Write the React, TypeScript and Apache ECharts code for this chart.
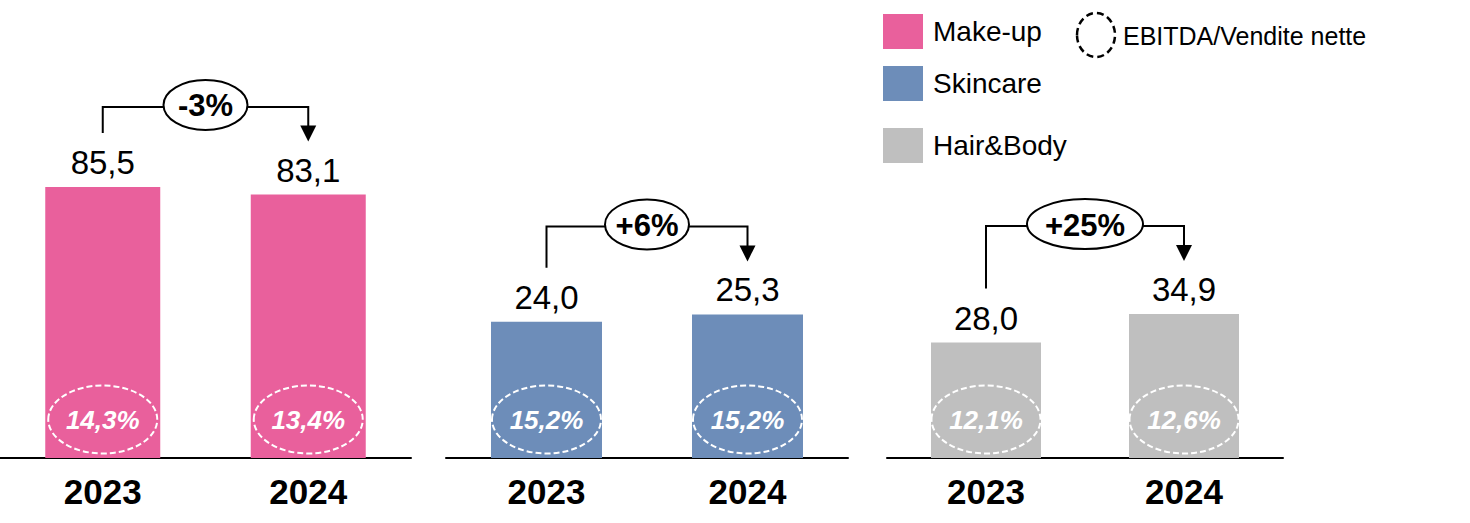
import React, { useEffect, useRef } from "react";
import * as echarts from "echarts";

const years = ["2023", "2024"];
const segmentNames = ["Make-up", "Skincare", "Hair&Body"];
const makeupValues = [85.5, 83.1];
const skincareValues = [24.0, 25.3];
const hairBodyValues = [28.0, 34.9];
const makeupMargins = ["14,3%", "13,4%"];
const skincareMargins = ["15,2%", "15,2%"];
const hairBodyMargins = ["12,1%", "12,6%"];
const growthLabels = ["-3%", "+6%", "+25%"];
const marginLegend = "EBITDA/Vendite nette";

const FONT = "'Liberation Sans', Arial, Helvetica, sans-serif";

const panels = [
  { values: makeupValues, margins: makeupMargins, color: "#E9609C", left: 0, width: 411, top: 141, max: 100, barWidth: 115, gap: 80 },
  { values: skincareValues, margins: skincareMargins, color: "#6D8DB9", left: 446, width: 402, top: 231, max: 40, barWidth: 111, gap: 88 },
  { values: hairBodyValues, margins: hairBodyMargins, color: "#BFBFBF", left: 887, width: 396, top: 293, max: 40, barWidth: 110, gap: 88 },
];

const legendTops = [14, 66, 128];

function fmt(v: number) {
  return v.toFixed(1).replace(".", ",");
}

export default function App() {
  const ref = useRef<HTMLDivElement>(null);

  useEffect(() => {
    document.body.style.margin = "0";
    if (!ref.current) return;
    const chart = echarts.init(ref.current, undefined, { renderer: "svg" });

    const grid = panels.map((p) => ({ left: p.left, width: p.width, top: p.top, bottom: 65, containLabel: false }));
    const xAxis = panels.map((p, i) => ({
      type: "category",
      gridIndex: i,
      data: years,
      axisLine: { lineStyle: { color: "#000", width: 2 } },
      axisTick: { show: false },
      axisLabel: { fontSize: 35, fontWeight: "bold", color: "#000", fontFamily: FONT, margin: 16 },
    }));
    const yAxis = panels.map((p, i) => ({
      type: "value",
      gridIndex: i,
      min: 0,
      max: p.max,
      show: false,
      splitLine: { show: false },
    }));

    const series: any[] = [];
    panels.forEach((p, i) => {
      series.push({
        type: "bar",
        name: segmentNames[i],
        xAxisIndex: i,
        yAxisIndex: i,
        data: p.values,
        barWidth: p.barWidth,
        z: 2,
        itemStyle: { color: p.color },
        label: {
          show: true,
          position: "top",
          distance: 8,
          formatter: (d: any) => fmt(d.value),
          fontSize: 33,
          color: "#000",
          fontFamily: FONT,
        },
      });
      // EBITDA margin ellipses
      series.push({
        type: "custom",
        xAxisIndex: i,
        yAxisIndex: i,
        clip: false,
        silent: true,
        z: 10,
        data: p.values.map((v, k) => [k, v]),
        renderItem: (params: any, api: any) => {
          const k = api.value(0);
          const base = api.coord([k, 0]);
          const cy = base[1] - 38.5;
          return {
            type: "group",
            children: [
              {
                type: "ellipse",
                shape: { cx: base[0], cy, rx: 54.5, ry: 34 },
                style: { fill: "none", stroke: "#ffffff", lineWidth: 2, lineDash: [6, 3] },
              },
              {
                type: "text",
                x: base[0],
                y: cy,
                style: {
                  text: p.margins[k],
                  fill: "#ffffff",
                  fontSize: 26,
                  fontWeight: "bold",
                  fontStyle: "italic",
                  fontFamily: FONT,
                  align: "center",
                  verticalAlign: "middle",
                },
              },
            ],
          };
        },
      });
      // growth bracket
      series.push({
        type: "custom",
        xAxisIndex: i,
        yAxisIndex: i,
        clip: false,
        silent: true,
        z: 10,
        data: [[0, p.values[0], p.values[1]]],
        renderItem: (params: any, api: any) => {
          const a = api.coord([0, api.value(1)]);
          const b = api.coord([1, api.value(2)]);
          const by = Math.min(a[1], b[1]) - p.gap;
          const cx = (a[0] + b[0]) / 2;
          const label = growthLabels[i];
          const rx = 42 + Math.max(0, label.length - 3) * 16;
          const ry = 25;
          const tipY = b[1] - 53;
          const line = { stroke: "#000", lineWidth: 2, fill: "none" };
          return {
            type: "group",
            children: [
              {
                type: "polyline",
                shape: { points: [[a[0], a[1] - 54], [a[0], by], [cx - rx, by]] },
                style: line,
              },
              {
                type: "polyline",
                shape: { points: [[cx + rx, by], [b[0], by], [b[0], tipY - 14]] },
                style: line,
              },
              {
                type: "polygon",
                shape: { points: [[b[0] - 8, tipY - 16], [b[0] + 8, tipY - 16], [b[0], tipY]] },
                style: { fill: "#000" },
              },
              {
                type: "ellipse",
                shape: { cx, cy: by - 2, rx, ry },
                style: { fill: "#fff", stroke: "#000", lineWidth: 2 },
              },
              {
                type: "text",
                x: cx,
                y: by - 1,
                style: {
                  text: label,
                  fill: "#000",
                  fontSize: 31,
                  fontWeight: "bold",
                  fontFamily: FONT,
                  align: "center",
                  verticalAlign: "middle",
                },
              },
            ],
          };
        },
      });
    });

    const legend = segmentNames.map((n, i) => ({
      data: [n],
      left: 883,
      top: legendTops[i],
      orient: "vertical",
      itemWidth: 40,
      itemHeight: 35,
      icon: "rect",
      padding: 0,
      selectedMode: false,
      textStyle: { fontSize: 28, color: "#000", fontFamily: FONT, padding: [2, 0, 0, 5] },
    }));

    chart.setOption({
      animation: false,
      backgroundColor: "#fff",
      grid,
      xAxis,
      yAxis,
      legend,
      series,
      graphic: [
        {
          type: "ellipse",
          shape: { cx: 1096, cy: 35, rx: 19, ry: 22 },
          style: { fill: "none", stroke: "#000", lineWidth: 2.5, lineDash: [7, 4] },
        },
        {
          type: "text",
          x: 1123,
          y: 36,
          style: {
            text: marginLegend,
            fill: "#000",
            fontSize: 25,
            fontFamily: FONT,
            verticalAlign: "middle",
          },
        },
      ],
    });

    return () => chart.dispose();
  }, []);

  return <div ref={ref} style={{ width: 1470, height: 523 }} />;
}
